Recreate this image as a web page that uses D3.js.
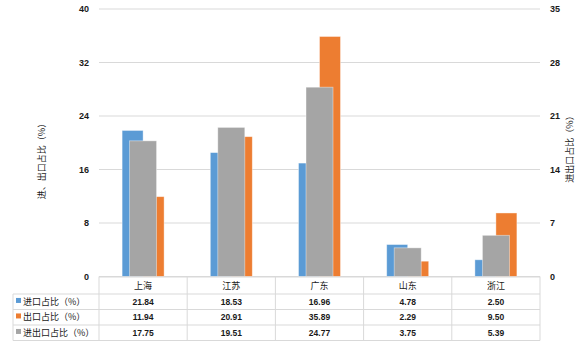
<!DOCTYPE html>
<html><head><meta charset="utf-8">
<script src="https://cdn.jsdelivr.net/npm/d3@7"></script>
<style>
body{margin:0;background:#fff;}
svg{display:block;font-family:"Noto Sans CJK SC","Noto Sans",sans-serif;}
</style></head>
<body>
<script>
const categories = ['上海','江苏','广东','山东','浙江'];
const importShare = [21.84,18.53,16.96,4.78,2.50];
const exportShare = [11.94,20.91,35.89,2.29,9.50];
const totalShare = [17.75,19.51,24.77,3.75,5.39];
const leftTicks = [0,8,16,24,32,40];
const rightTicks = [0,7,14,21,28,35];
const seriesNames = ['进口占比（%）','出口占比（%）','进出口占比（%）'];
const colors = ['#5B9BD5','#ED7D31','#A5A5A5'];
const leftTitle = '进、出口占比（%）';
const rightTitle = '进出口占比（%）';

const W=584,H=341;
const txt='#1a1a1a';
const svg=d3.select('body').append('svg').attr('width',W).attr('height',H);
const L=99,R=540,T=9,B=276.5;
const x=d3.scaleBand().domain(categories).range([L,R]);
const yL=d3.scaleLinear().domain([0,40]).range([B,T]);
const yR=d3.scaleLinear().domain([0,35]).range([B,T]);
const xPrim=d3.scaleBand().domain(['imp','exp']).range([0,x.bandwidth()]).paddingInner(0).paddingOuter(1.1);
const xSec=d3.scaleBand().domain(['tot']).range([0,x.bandwidth()]).paddingInner(0).paddingOuter(1.133);

// gridlines
svg.append('g').selectAll('line').data(leftTicks).join('line')
 .attr('x1',L).attr('x2',R).attr('y1',d=>yL(d)).attr('y2',d=>yL(d))
 .attr('stroke','#D9D9D9').attr('stroke-width',1);

// axis labels
const axL=d3.axisLeft(yL).tickValues(leftTicks).tickSize(0).tickPadding(0);
const gL=svg.append('g').attr('transform',`translate(${L-10},0)`).call(axL);
gL.select('.domain').remove();
gL.selectAll('text').attr('font-size',9).attr('font-weight','bold').attr('fill',txt).attr('font-family','"Liberation Sans",sans-serif');
const axR=d3.axisRight(yR).tickValues(rightTicks).tickSize(0).tickPadding(0);
const gR=svg.append('g').attr('transform',`translate(${R+10},0)`).call(axR);
gR.select('.domain').remove();
gR.selectAll('text').attr('font-size',9).attr('font-weight','bold').attr('fill',txt).attr('font-family','"Liberation Sans",sans-serif');

// primary bars
const prim=[{k:'imp',v:importShare,c:colors[0]},{k:'exp',v:exportShare,c:colors[1]}];
prim.forEach(s=>{
 svg.append('g').selectAll('rect').data(categories).join('rect')
  .attr('x',(d)=>x(d)+xPrim(s.k))
  .attr('width',xPrim.bandwidth())
  .attr('y',(d,i)=>yL(s.v[i]))
  .attr('height',(d,i)=>B-yL(s.v[i]))
  .attr('fill',s.c).attr('stroke','#ffffff').attr('stroke-opacity',0.5).attr('stroke-width',0.8);
});
svg.append('g').selectAll('rect').data(categories).join('rect')
  .attr('x',(d)=>x(d)+xSec('tot'))
  .attr('width',xSec.bandwidth())
  .attr('y',(d,i)=>yR(totalShare[i]))
  .attr('height',(d,i)=>B-yR(totalShare[i]))
  .attr('fill',colors[2]).attr('stroke','#ffffff').attr('stroke-opacity',0.5).attr('stroke-width',0.8);

// axis titles
svg.append('text').attr('transform',`translate(45,159) rotate(-90)`).attr('text-anchor','middle')
 .attr('font-size',9).attr('fill',txt).text(leftTitle);
svg.append('text').attr('transform',`translate(573,147) rotate(-90)`).attr('text-anchor','middle')
 .attr('font-size',9).attr('fill',txt).text(rightTitle);

// data table
const tbl=svg.append('g');
const rowY=[277,294,309.5,325,340.5];
const tL=13;
const lc='#D9D9D9';
tbl.append('line').attr('x1',L).attr('x2',R).attr('y1',B+0.5).attr('y2',B+0.5).attr('stroke',lc);
[1,2,3,4].forEach(i=>{
 tbl.append('line').attr('x1',tL).attr('x2',R).attr('y1',rowY[i]).attr('y2',rowY[i]).attr('stroke',lc);
});
const bounds=[L,...categories.map(c=>x(c)+x.bandwidth())];
bounds.forEach(bx=>{
 tbl.append('line').attr('x1',bx).attr('x2',bx).attr('y1',B).attr('y2',rowY[4]).attr('stroke',lc);
});
tbl.append('line').attr('x1',tL).attr('x2',tL).attr('y1',rowY[1]).attr('y2',rowY[4]).attr('stroke',lc);
tbl.selectAll('text.h').data(categories).join('text').attr('class','h')
 .attr('x',d=>x(d)+x.bandwidth()/2).attr('y',(rowY[0]+rowY[1])/2+3.5)
 .attr('text-anchor','middle').attr('font-size',9).attr('fill',txt).text(d=>d);
const rows=[importShare,exportShare,totalShare];
rows.forEach((vals,r)=>{
 const cy=(rowY[r+1]+rowY[r+2])/2+3.2;
 tbl.append('rect').attr('x',tL+3).attr('y',cy-7).attr('width',5).attr('height',5).attr('fill',colors[r]);
 tbl.append('text').attr('x',tL+10).attr('y',cy).attr('font-size',9).attr('fill',txt).text(seriesNames[r]);
 tbl.selectAll('text.v'+r).data(categories).join('text').attr('class','v'+r)
  .attr('x',d=>x(d)+x.bandwidth()/2).attr('y',cy)
  .attr('text-anchor','middle').attr('font-size',8.5).attr('font-weight','bold')
  .attr('font-family','"Liberation Sans",sans-serif').attr('fill',txt)
  .text((d,i)=>vals[i].toFixed(2));
});
</script>
</body></html>
